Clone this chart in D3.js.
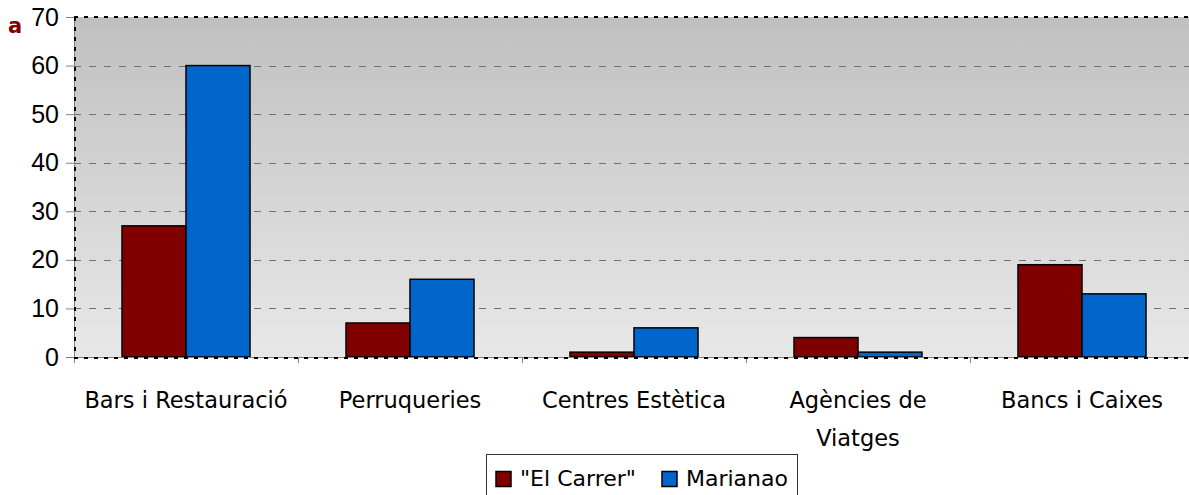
<!DOCTYPE html>
<html>
<head>
<meta charset="utf-8">
<script src="https://cdn.jsdelivr.net/npm/d3@7"></script>
<style>
  body { margin: 0; background: #fff; }
  svg { display: block; font-family: "DejaVu Sans", sans-serif; }
</style>
</head>
<body>
<div id="chart"></div>
<script>
const categories = [['Bars i Restauració'], ['Perruqueries'], ['Centres Estètica'], ['Agències de', 'Viatges'], ['Bancs i Caixes']]
const series = ['"El Carrer"', 'Marianao']
const elCarrer = [27, 7, 1, 4, 19]
const marianao = [60, 16, 6, 1, 13]
const yTicks = [0, 10, 20, 30, 40, 50, 60, 70]
const colors = ['#800000', '#0066cc']

const w = 1189
const h = 495
const plotLeft = 74
const plotTop = 17
const plotBottom = 357
const step = 224

const svg = d3.select('#chart')
  .append('svg')
  .attr('width', w)
  .attr('height', h)

const defs = svg.append('defs')
const grad = defs.append('linearGradient')
  .attr('id', 'bg')
  .attr('x1', 0).attr('y1', 0).attr('x2', 0).attr('y2', 1)
grad.append('stop').attr('offset', '0%').attr('stop-color', '#c0c0c0')
grad.append('stop').attr('offset', '100%').attr('stop-color', '#e8e8e8')

const names = categories.map(c => c.join(' '))
const x0 = d3.scaleBand()
  .domain(names)
  .range([plotLeft, plotLeft + step * names.length])
const x1 = d3.scaleBand()
  .domain(series)
  .range([0, x0.bandwidth()])
  .paddingOuter(0.75)
const y = d3.scaleLinear()
  .domain([0, 70])
  .range([plotBottom, plotTop])

// plot area
svg.append('rect')
  .attr('x', plotLeft)
  .attr('y', plotTop)
  .attr('width', w - plotLeft)
  .attr('height', plotBottom - plotTop)
  .attr('fill', 'url(#bg)')

// gridlines
svg.append('g')
  .selectAll('line')
  .data(yTicks.filter(d => d > 0 && d < 70))
  .enter()
  .append('line')
  .attr('x1', plotLeft)
  .attr('x2', w)
  .attr('y1', d => Math.round(y(d)) + 0.5)
  .attr('y2', d => Math.round(y(d)) + 0.5)
  .attr('stroke', '#707070')
  .attr('stroke-dasharray', '7,8')

// bars
const data = names.map((n, i) => [
  { cat: n, s: series[0], v: elCarrer[i] },
  { cat: n, s: series[1], v: marianao[i] }
])
svg.append('g')
  .selectAll('g')
  .data(data)
  .enter()
  .append('g')
  .attr('transform', d => 'translate(' + x0(d[0].cat) + ',0)')
  .selectAll('rect')
  .data(d => d)
  .enter()
  .append('rect')
  .attr('x', d => x1(d.s))
  .attr('y', d => y(d.v))
  .attr('width', x1.bandwidth())
  .attr('height', d => plotBottom - y(d.v))
  .attr('fill', (d, i) => colors[i])
  .attr('stroke', '#000')
  .attr('stroke-width', 1.5)

// y axis
const yAxis = svg.append('g')
  .attr('transform', 'translate(' + plotLeft + ',0)')
  .call(d3.axisLeft(y).tickValues(yTicks).tickSize(8).tickPadding(7))
yAxis.select('.domain').attr('stroke', '#808080')
yAxis.selectAll('.tick line').attr('stroke', '#808080')
yAxis.selectAll('text')
  .attr('font-size', 25)
  .attr('fill', '#000')

// x axis
const xAxis = svg.append('g')
  .attr('transform', 'translate(0,' + plotBottom + ')')
xAxis.append('line')
  .attr('x1', plotLeft).attr('x2', w)
  .attr('y1', 0.5).attr('y2', 0.5)
  .attr('stroke', '#808080')
xAxis.selectAll('.cat-tick')
  .data(names.map(n => x0(n)).concat([plotLeft + step * names.length]))
  .enter()
  .append('line')
  .attr('x1', d => d + 0.5).attr('x2', d => d + 0.5)
  .attr('y1', 0).attr('y2', 6)
  .attr('stroke', '#808080')

// plot border (dotted)
const border = svg.append('g')
  .attr('fill', 'none')
  .attr('stroke', '#000')
  .attr('stroke-width', 2)
  .attr('stroke-dasharray', '4,6')
border.append('line').attr('x1', plotLeft).attr('x2', w).attr('y1', plotTop).attr('y2', plotTop)
border.append('line').attr('x1', plotLeft + 1).attr('x2', plotLeft + 1).attr('y1', plotTop).attr('y2', plotBottom)
border.append('line').attr('x1', plotLeft).attr('x2', w).attr('y1', plotBottom + 1).attr('y2', plotBottom + 1)

// category labels
svg.append('g')
  .selectAll('text')
  .data(categories)
  .enter()
  .append('text')
  .attr('x', (d, i) => x0(names[i]) + x0.bandwidth() / 2)
  .attr('y', 408)
  .attr('text-anchor', 'middle')
  .attr('font-size', 22.5)
  .attr('fill', '#000')
  .selectAll('tspan')
  .data(d => d)
  .enter()
  .append('tspan')
  .attr('x', function () { return this.parentNode.getAttribute('x') })
  .attr('dy', (d, i) => i === 0 ? 0 : 38)
  .text(d => d)

// truncated title
svg.append('text')
  .attr('x', 8)
  .attr('y', 33)
  .attr('font-size', 21)
  .attr('font-weight', 'bold')
  .attr('fill', '#800000')
  .text('a')

// legend
const legend = svg.append('g')
legend.append('rect')
  .attr('x', 486.5)
  .attr('y', 454.5)
  .attr('width', 311)
  .attr('height', 45)
  .attr('fill', '#fff')
  .attr('stroke', '#333')
const legendX = [496, 662]
series.forEach((s, i) => {
  legend.append('rect')
    .attr('x', legendX[i])
    .attr('y', 471.5)
    .attr('width', 15)
    .attr('height', 15)
    .attr('fill', colors[i])
    .attr('stroke', '#000')
    .attr('stroke-width', 1.5)
  legend.append('text')
    .attr('x', legendX[i] + 24)
    .attr('y', 486)
    .attr('font-size', 22)
    .attr('fill', '#000')
    .text(s)
})
</script>
</body>
</html>
